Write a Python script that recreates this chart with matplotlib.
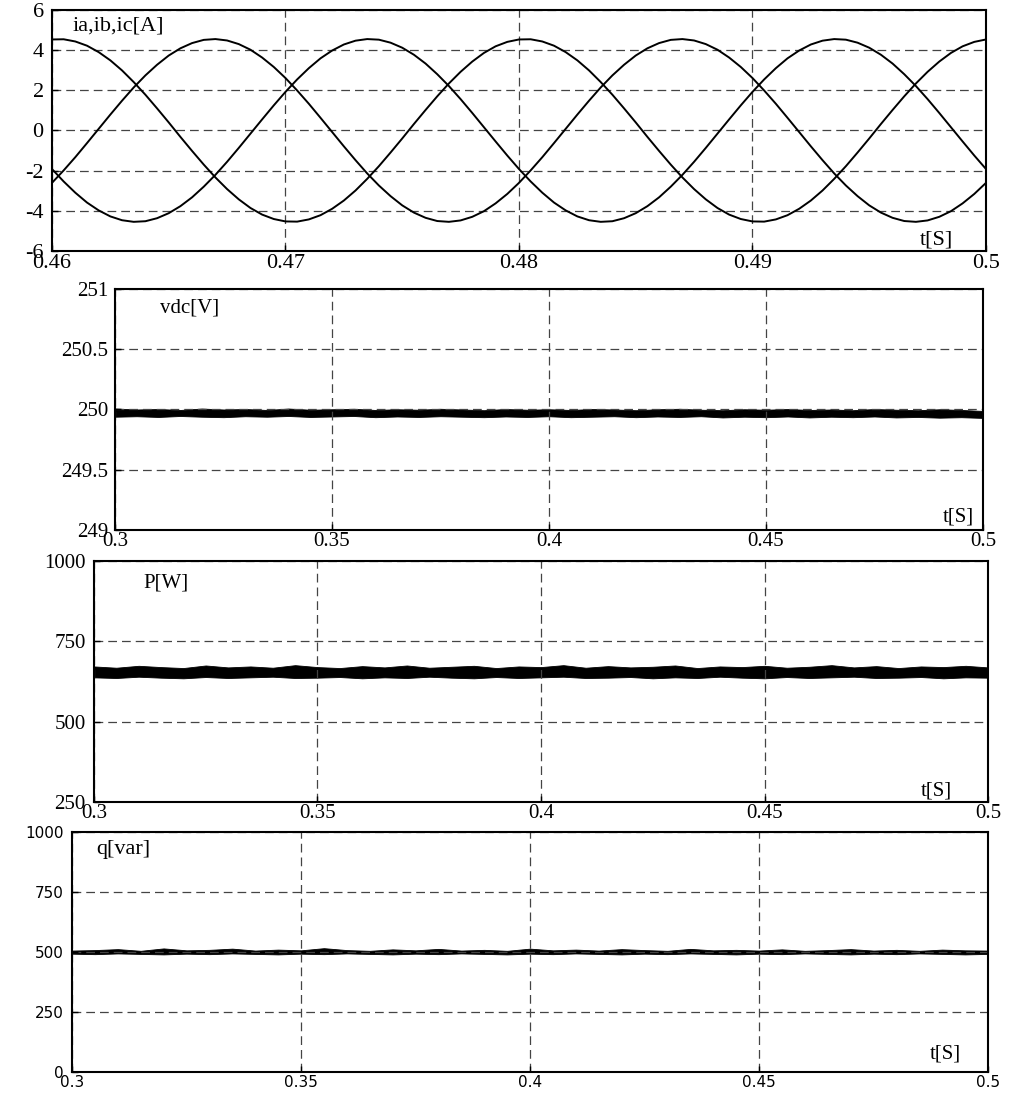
import numpy as np
import matplotlib
matplotlib.use("Agg")
import matplotlib.pyplot as plt

# ---- panel 1: phase currents, read every 0.5 ms from 0.46 s to 0.50 s
t_i = [0.460 + 0.0005 * k for k in range(81)]
ia = [4.53, 4.54, 4.43, 4.22, 3.90, 3.49, 2.99, 2.41, 1.78, 1.10,
      0.40, -0.32, -1.02, -1.70, -2.34, -2.92, -3.43, -3.86, -4.19, -4.41,
      -4.53, -4.54, -4.43, -4.22, -3.90, -3.49, -2.99, -2.41, -1.78, -1.10,
      -0.40, 0.32, 1.02, 1.70, 2.34, 2.92, 3.43, 3.86, 4.19, 4.41,
      4.53, 4.54, 4.43, 4.22, 3.90, 3.49, 2.99, 2.41, 1.78, 1.10,
      0.40, -0.32, -1.02, -1.70, -2.34, -2.92, -3.43, -3.86, -4.19, -4.41,
      -4.53, -4.54, -4.43, -4.22, -3.90, -3.49, -2.99, -2.41, -1.78, -1.10,
      -0.40, 0.32, 1.02, 1.70, 2.34, 2.92, 3.43, 3.86, 4.19, 4.41,
      4.53]
ib = [-2.61, -1.99, -1.33, -0.63, 0.08, 0.79, 1.48, 2.14, 2.74, 3.27,
      3.73, 4.09, 4.35, 4.51, 4.55, 4.48, 4.30, 4.02, 3.63, 3.16,
      2.61, 1.99, 1.33, 0.63, -0.08, -0.79, -1.48, -2.14, -2.74, -3.27,
      -3.73, -4.09, -4.35, -4.51, -4.55, -4.48, -4.30, -4.02, -3.63, -3.16,
      -2.61, -1.99, -1.33, -0.63, 0.08, 0.79, 1.48, 2.14, 2.74, 3.27,
      3.73, 4.09, 4.35, 4.51, 4.55, 4.48, 4.30, 4.02, 3.63, 3.16,
      2.61, 1.99, 1.33, 0.63, -0.08, -0.79, -1.48, -2.14, -2.74, -3.27,
      -3.73, -4.09, -4.35, -4.51, -4.55, -4.48, -4.30, -4.02, -3.63, -3.16,
      -2.61]
ic = [-1.92, -2.54, -3.10, -3.59, -3.98, -4.28, -4.47, -4.55, -4.52, -4.37,
      -4.12, -3.77, -3.33, -2.80, -2.21, -1.56, -0.87, -0.16, 0.55, 1.25,
      1.92, 2.54, 3.10, 3.59, 3.98, 4.28, 4.47, 4.55, 4.52, 4.37,
      4.12, 3.77, 3.33, 2.80, 2.21, 1.56, 0.87, 0.16, -0.55, -1.25,
      -1.92, -2.54, -3.10, -3.59, -3.98, -4.28, -4.47, -4.55, -4.52, -4.37,
      -4.12, -3.77, -3.33, -2.80, -2.21, -1.56, -0.87, -0.16, 0.55, 1.25,
      1.92, 2.54, 3.10, 3.59, 3.98, 4.28, 4.47, 4.55, 4.52, 4.37,
      4.12, 3.77, 3.33, 2.80, 2.21, 1.56, 0.87, 0.16, -0.55, -1.25,
      -1.92]

# ---- panels 2-4: ripple band (upper / lower envelope) every 5 ms, 0.3 s .. 0.5 s
t_dc = [0.300 + 0.005 * k for k in range(41)]
vdc_upper = [250.008, 250.000, 250.004, 249.996, 250.008, 250.000, 250.004, 249.996,
             250.008, 249.998, 250.002, 250.006, 249.996, 250.002, 249.998, 250.006,
             250.000, 249.994, 250.004, 249.998, 250.002, 249.996, 250.004, 250.000,
             249.994, 250.002, 250.006, 249.998, 249.994, 250.002, 249.998, 250.004,
             249.996, 250.000, 249.994, 250.004, 249.998, 249.994, 250.002, 249.996,
             249.988]
vdc_lower = [249.940, 249.944, 249.938, 249.946, 249.940, 249.936, 249.944, 249.940,
             249.946, 249.938, 249.942, 249.946, 249.936, 249.942, 249.938, 249.944,
             249.940, 249.936, 249.942, 249.938, 249.944, 249.936, 249.940, 249.944,
             249.936, 249.942, 249.938, 249.944, 249.934, 249.940, 249.936, 249.942,
             249.934, 249.940, 249.936, 249.942, 249.934, 249.938, 249.932, 249.936,
             249.930]
p_upper = [672, 668, 674, 670, 667, 675, 669, 672, 668, 676, 670, 667, 673, 669,
           675, 668, 671, 674, 667, 672, 670, 676, 668, 673, 669, 671, 675, 667,
           672, 670, 674, 668, 671, 676, 669, 673, 667, 672, 670, 674, 669]
p_lower = [638, 636, 640, 637, 635, 639, 636, 638, 640, 636, 637, 639, 635, 638,
           636, 640, 637, 635, 639, 636, 638, 640, 636, 637, 639, 635, 638, 636,
           640, 637, 635, 639, 636, 638, 640, 636, 637, 639, 635, 638, 637]
q_upper = [506, 508, 512, 505, 515, 507, 509, 514, 506, 510, 507, 516, 508, 505,
           511, 507, 513, 506, 509, 505, 514, 507, 510, 506, 512, 508, 505, 513,
           507, 509, 506, 511, 505, 508, 512, 506, 509, 505, 510, 507, 506]
q_lower = [493, 491, 494, 492, 490, 493, 491, 494, 492, 490, 493, 491, 494, 492,
           490, 493, 491, 494, 492, 490, 493, 491, 494, 492, 490, 493, 491, 494,
           492, 490, 493, 491, 494, 492, 490, 493, 491, 494, 492, 490, 492]

x1_ticks = [0.46, 0.47, 0.48, 0.49, 0.50]
x1_labels = ["0.46", "0.47", "0.48", "0.49", "0.5"]
x_ticks = [0.30, 0.35, 0.40, 0.45, 0.50]
x_labels = ["0.3", "0.35", "0.4", "0.45", "0.5"]
y1_ticks = [-6, -4, -2, 0, 2, 4, 6]
y2_ticks = [249, 249.5, 250, 250.5, 251]
y2_labels = ["249", "249.5", "250", "250.5", "251"]
y3_ticks = [250, 500, 750, 1000]
y4_ticks = [0, 250, 500, 750, 1000]

SERIF = "Liberation Serif"
SANS = "DejaVu Sans"

fig = plt.figure(figsize=(10.17, 10.93), dpi=100)
ax1 = fig.add_axes([0.0511, 0.7704, 0.9184, 0.2205])
ax2 = fig.add_axes([0.1131, 0.5151, 0.8535, 0.2205])
ax3 = fig.add_axes([0.0924, 0.2662, 0.8791, 0.2205])
ax4 = fig.add_axes([0.0708, 0.0192, 0.9007, 0.2196])


def style(ax, xt, xl, yt, yl, fam, fs, xpad, ypad):
    ax.set_xticks(xt)
    ax.set_xticklabels(xl, fontfamily=fam, fontsize=fs)
    ax.set_yticks(yt)
    ax.set_yticklabels(yl, fontfamily=fam, fontsize=fs)
    ax.set_xlim(xt[0], xt[-1])
    ax.set_ylim(yt[0], yt[-1])
    ax.tick_params(axis="x", direction="in", length=4, width=1, pad=xpad)
    ax.tick_params(axis="y", direction="in", length=4, width=1, pad=ypad)
    ax.grid(True, color="#444444", linestyle=(0, (7, 4)), linewidth=0.9)
    for s in ax.spines.values():
        s.set_linewidth(1.5)
        s.set_color("black")


style(ax1, x1_ticks, x1_labels, y1_ticks, [str(v) for v in y1_ticks],
      SERIF, 16, 2, 6)
for cur in (ia, ib, ic):
    ax1.plot(t_i, cur, color="black", linewidth=1.4)
ax1.text(0.022, 0.935, "ia,ib,ic[A]", transform=ax1.transAxes,
         fontfamily=SERIF, fontsize=16, va="center", ha="left")
ax1.text(0.965, 0.005, "t[S]", transform=ax1.transAxes,
         fontfamily=SERIF, fontsize=16, va="bottom", ha="right")

style(ax2, x_ticks, x_labels, y2_ticks, y2_labels, SERIF, 15, 1.5, 5)
ax2.fill_between(t_dc, vdc_lower, vdc_upper, color="black", linewidth=0.6)
ax2.text(0.052, 0.92, "vdc[V]", transform=ax2.transAxes,
         fontfamily=SERIF, fontsize=15, va="center", ha="left")
ax2.text(0.99, 0.015, "t[S]", transform=ax2.transAxes,
         fontfamily=SERIF, fontsize=15, va="bottom", ha="right")

style(ax3, x_ticks, x_labels, y3_ticks, [str(v) for v in y3_ticks],
      SERIF, 15, 1.5, 6)
ax3.fill_between(t_dc, p_lower, p_upper, color="black", linewidth=0.6)
ax3.text(0.055, 0.91, "P[W]", transform=ax3.transAxes,
         fontfamily=SERIF, fontsize=15, va="center", ha="left")
ax3.text(0.96, 0.005, "t[S]", transform=ax3.transAxes,
         fontfamily=SERIF, fontsize=15, va="bottom", ha="right")

style(ax4, x_ticks, x_labels, y4_ticks, [str(v) for v in y4_ticks],
      SANS, 11, 2.5, 6)
ax4.fill_between(t_dc, q_lower, q_upper, color="black", linewidth=0.6)
ax4.text(0.027, 0.925, "q[var]", transform=ax4.transAxes,
         fontfamily=SERIF, fontsize=16, va="center", ha="left")
ax4.text(0.97, 0.035, "t[S]", transform=ax4.transAxes,
         fontfamily=SERIF, fontsize=15, va="bottom", ha="right")

fig.savefig("out.png", dpi=100)
